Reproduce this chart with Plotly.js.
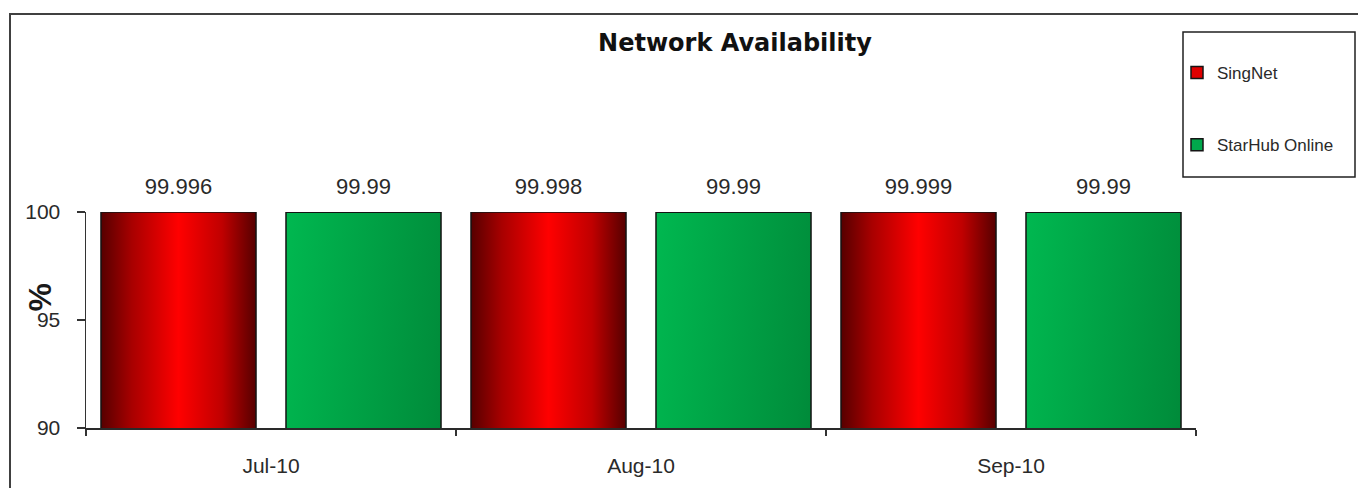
<!DOCTYPE html>
<html>
<head>
<meta charset="utf-8">
<script src="https://cdn.plot.ly/plotly-3.0.1.min.js"></script>
<style>
  html, body { margin: 0; padding: 0; background: #ffffff; }
  #chart { width: 1358px; height: 488px; }
</style>
</head>
<body>
<div id="chart"></div>
<script>
// ---- data ----
const months = ["Jul-10", "Aug-10", "Sep-10"];
const singnet = [99.996, 99.998, 99.999];
const starhub = [99.99, 99.99, 99.99];
const singnetLabels = ["99.996", "99.998", "99.999"];
const starhubLabels = ["99.99", "99.99", "99.99"];
const seriesNames = ["SingNet", "StarHub Online"];
const yTicks = [90, 95, 100];

const barLine = { color: "#141414", width: 1.5 };
const labelFont = { family: "Liberation Sans, Arial, sans-serif", size: 22, color: "#2a2a2a" };

const data = [
  { type: "bar", name: seriesNames[0], x: months, y: singnet, offsetgroup: "a", legendgroup: "g1",
    marker: { color: "#e00000", line: barLine }, hoverinfo: "skip" },
  { type: "bar", name: seriesNames[1], x: months, y: starhub, offsetgroup: "b", legendgroup: "g2",
    marker: { color: "#00a84c", line: barLine }, hoverinfo: "skip" },
  { type: "scatter", mode: "markers+text", x: months, y: singnet, text: singnetLabels,
    offsetgroup: "a", textposition: "top center", showlegend: false, hoverinfo: "skip",
    cliponaxis: false, marker: { size: 19, opacity: 0 }, textfont: labelFont },
  { type: "scatter", mode: "markers+text", x: months, y: starhub, text: starhubLabels,
    offsetgroup: "b", textposition: "top center", showlegend: false, hoverinfo: "skip",
    cliponaxis: false, marker: { size: 19, opacity: 0 }, textfont: labelFont }
];

const W = 1358, H = 488;
const L = 86, R = 1196, T = 212, B = 428;
const px = (p) => (p - L) / (R - L);
const py = (p) => (B - p) / (B - T);

const layout = {
  width: W, height: H,
  margin: { l: L, r: W - R, t: T, b: H - B, pad: 0 },
  paper_bgcolor: "#ffffff", plot_bgcolor: "#ffffff",
  font: { family: "Liberation Sans, Arial, sans-serif", color: "#2a2a2a" },
  barmode: "group", bargap: 0, bargroupgap: 0.162,
  scattermode: "group", scattergap: 0,
  title: { text: "<b>Network Availability</b>", xref: "container", yref: "container",
    x: 735 / W, y: 1 - 43 / H, xanchor: "center", yanchor: "middle",
    font: { family: "DejaVu Sans, sans-serif", size: 24, color: "#111111" } },
  xaxis: {
    type: "category", showgrid: false, zeroline: false,
    showline: true, linecolor: "#2a2a2a", linewidth: 2,
    ticks: "outside", tickson: "boundaries", ticklen: 6, tickwidth: 1.5, tickcolor: "#333333",
    ticklabelstandoff: 18,
    tickfont: { size: 21, color: "#2a2a2a" }
  },
  yaxis: {
    range: [90, 100], tickvals: yTicks, showgrid: false, zeroline: false,
    showline: true, linecolor: "#333333", linewidth: 1.5,
    ticks: "outside", ticklen: 8, tickwidth: 1.5, tickcolor: "#333333",
    ticklabelstandoff: 12,
    tickfont: { size: 21, color: "#2a2a2a" }
  },
  showlegend: true,
  legend: {
    x: px(1177), y: py(55), xanchor: "left", yanchor: "top",
    bgcolor: "rgba(0,0,0,0)", borderwidth: 0,
    traceorder: "grouped", tracegroupgap: 47,
    font: { size: 17, color: "#2a2a2a" }
  },
  annotations: [
    { text: "<b>%</b>", xref: "paper", yref: "paper", x: px(39.5), y: py(298),
      xanchor: "center", yanchor: "middle", textangle: -90, showarrow: false,
      font: { family: "Liberation Sans, Arial, sans-serif", size: 32, color: "#1a1a1a" } }
  ],
  shapes: [
    { type: "rect", xref: "paper", yref: "paper", layer: "below",
      x0: px(10), x1: px(1380), y0: py(14), y1: py(520),
      line: { color: "#404040", width: 2 }, fillcolor: "rgba(0,0,0,0)" },
    { type: "rect", xref: "paper", yref: "paper", layer: "below",
      x0: px(1183), x1: px(1355), y0: py(32), y1: py(177),
      line: { color: "#202020", width: 1.5 }, fillcolor: "rgba(0,0,0,0)" }
  ]
};

Plotly.newPlot("chart", data, layout, { staticPlot: true, displayModeBar: false }).then(function (gd) {
  const ns = "http://www.w3.org/2000/svg";
  const svg = gd.querySelector("svg.main-svg");
  let defs = svg.querySelector("defs");
  if (!defs) { defs = document.createElementNS(ns, "defs"); svg.insertBefore(defs, svg.firstChild); }
  function addGrad(id, x2, y2, stops) {
    const g = document.createElementNS(ns, "linearGradient");
    g.setAttribute("id", id);
    g.setAttribute("x1", "0"); g.setAttribute("y1", "0");
    g.setAttribute("x2", x2); g.setAttribute("y2", y2);
    stops.forEach(function (s) {
      const st = document.createElementNS(ns, "stop");
      st.setAttribute("offset", s[0]);
      st.setAttribute("stop-color", s[1]);
      g.appendChild(st);
    });
    defs.appendChild(g);
  }
  addGrad("gradRed", "1", "0", [["0", "#560000"], ["0.2", "#a80000"], ["0.5", "#ff0000"], ["0.78", "#c00000"], ["1", "#560000"]]);
  addGrad("gradGreen", "0.8", "1", [["0", "#00b850"], ["0.5", "#008f3c"], ["1", "#005a22"]]);
  const traces = gd.querySelectorAll(".barlayer .trace");
  const ids = ["gradRed", "gradGreen"];
  traces.forEach(function (t, i) {
    t.querySelectorAll("path").forEach(function (p) { p.style.fill = "url(#" + ids[i] + ")"; });
  });
});
</script>
</body>
</html>
